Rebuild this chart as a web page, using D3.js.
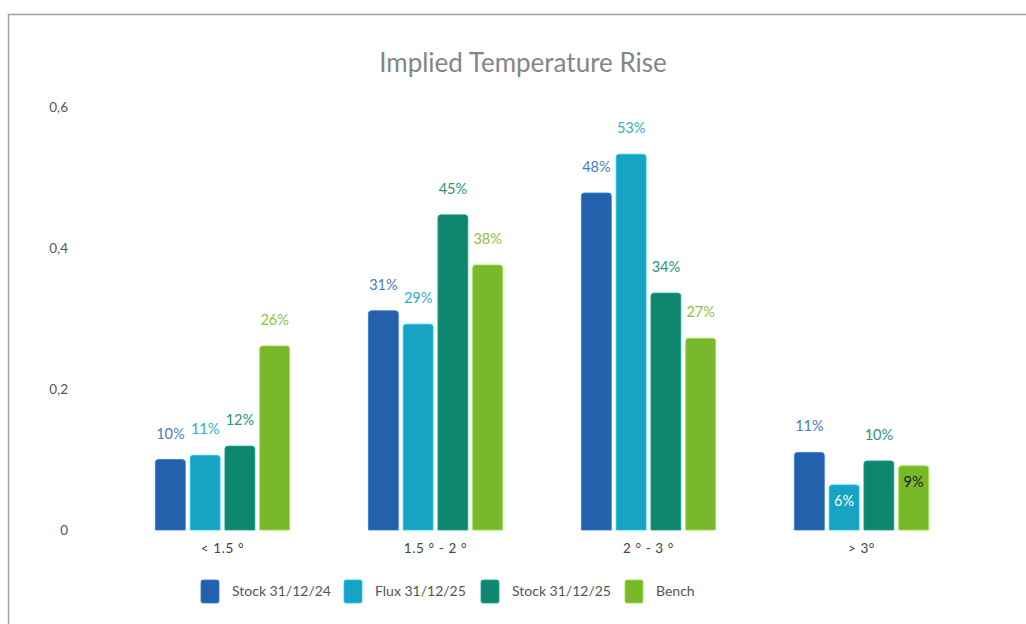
<!DOCTYPE html>
<html>
<head>
<meta charset="utf-8">
<script src="https://cdn.jsdelivr.net/npm/d3@7/dist/d3.min.js"></script>
<style>
  html, body { margin: 0; padding: 0; background: #fff; }
  svg { display: block; }
</style>
</head>
<body>
<svg id="chart" width="1026" height="624"></svg>
<script>
const categories = ["< 1.5 °", "1.5 ° - 2 °", "2 ° - 3 °", "> 3°"];
const seriesNames = ["Stock 31/12/24", "Flux 31/12/25", "Stock 31/12/25", "Bench"];
const stock24 = [0.100, 0.311, 0.478, 0.110];
const flux25  = [0.106, 0.292, 0.533, 0.064];
const stock25 = [0.119, 0.447, 0.336, 0.098];
const bench   = [0.261, 0.376, 0.272, 0.091];
const yTicks = [0, 0.2, 0.4, 0.6];
const yTickLabels = ["0", "0,2", "0,4", "0,6"];

const seriesValues = [stock24, flux25, stock25, bench];
const barColors = ["#2461ad", "#16a3c4", "#0f8670", "#78b82b"];
const labelColors = ["#4a7bc3", "#2eafca", "#2a9381", "#8bc23c"];
// labels drawn inside bars: [categoryIndex, seriesIndex, textColor]
const insideLabels = [[3, 1, "#ffffff"], [3, 3, "#1e1e1e"]];

const svg = d3.select("#chart");
const font = "Lato, 'Open Sans', sans-serif";

// frame
svg.append("line").attr("x1", 8).attr("x2", 1026).attr("y1", 14.5).attr("y2", 14.5)
  .attr("stroke", "#a0a0a0").attr("stroke-width", 1.5);
svg.append("line").attr("x1", 8.5).attr("x2", 8.5).attr("y1", 14).attr("y2", 624)
  .attr("stroke", "#a0a0a0").attr("stroke-width", 1.5);

// title
svg.append("text").attr("x", 523).attr("y", 72).attr("text-anchor", "middle")
  .attr("font-family", font).attr("font-size", 26).attr("fill", "#858585")
  .text("Implied Temperature Rise");

const x0 = d3.scaleBand().domain(categories).range([116, 968])
  .paddingInner(0.37).paddingOuter(0.185);
const x1 = d3.scaleBand().domain(d3.range(seriesNames.length))
  .range([0, x0.bandwidth()]).paddingInner(0.14);
const y = d3.scaleLinear().domain([0, 0.6]).range([530, 107]);

// y axis labels
const yAxis = d3.axisLeft(y).tickValues(yTicks)
  .tickFormat((d, i) => yTickLabels[i]).tickSize(0).tickPadding(0);
const yg = svg.append("g").attr("transform", "translate(68,0)").call(yAxis);
yg.select(".domain").remove();
yg.selectAll("text").attr("font-family", font).attr("font-size", 13.5)
  .attr("fill", "#555").attr("dy", "0.35em");

// x axis labels
const xAxis = d3.axisBottom(x0).tickSize(0).tickPadding(0);
const xg = svg.append("g").attr("transform", "translate(0,541)").call(xAxis);
xg.select(".domain").remove();
xg.selectAll("text").attr("font-family", font).attr("font-size", 13.5)
  .attr("fill", "#444").attr("dy", "0.9em").attr("letter-spacing", 0.6);

// bars
const data = [];
categories.forEach((c, ci) => {
  seriesValues.forEach((vals, si) => data.push({ ci, si, cat: c, v: vals[ci] }));
});

const groups = svg.append("g");
function roundTopRect(x, yTop, w, h, r) {
  return `M${x},${yTop + h}V${yTop + r}Q${x},${yTop} ${x + r},${yTop}H${x + w - r}Q${x + w},${yTop} ${x + w},${yTop + r}V${yTop + h}Z`;
}
groups.selectAll("path.bar").data(data).join("path").attr("class", "bar")
  .attr("d", d => {
    const bx = x0(d.cat) + x1(d.si);
    const top = y(d.v);
    return roundTopRect(bx, top, x1.bandwidth(), y(0) - top, 3);
  })
  .attr("fill", d => barColors[d.si])
  .attr("stroke", d => d3.color(barColors[d.si]).brighter(0.6))
  .attr("stroke-width", 0.8);

const fmt = d3.format(".0%");
groups.selectAll("text.lbl").data(data).join("text").attr("class", "lbl")
  .attr("x", d => x0(d.cat) + x1(d.si) + x1.bandwidth() / 2)
  .attr("y", d => {
    const inside = insideLabels.find(a => a[0] === d.ci && a[1] === d.si);
    return inside ? y(d.v) + 21 : y(d.v) - 21;
  })
  .attr("text-anchor", "middle")
  .attr("font-family", font).attr("font-size", 14.5)
  .attr("fill", d => {
    const inside = insideLabels.find(a => a[0] === d.ci && a[1] === d.si);
    return inside ? inside[2] : labelColors[d.si];
  })
  .text(d => fmt(d.v));

// legend
const legendX = [201, 344, 481, 625];
const lg = svg.append("g");
seriesNames.forEach((name, i) => {
  lg.append("rect").attr("x", legendX[i]).attr("y", 580).attr("width", 18).attr("height", 23)
    .attr("rx", 2).attr("fill", barColors[i])
    .attr("stroke", d3.color(barColors[i]).brighter(0.6)).attr("stroke-width", 0.8);
  lg.append("text").attr("x", legendX[i] + 31).attr("y", 596)
    .attr("font-family", font).attr("font-size", 14).attr("fill", "#555")
    .text(name);
});
</script>
</body>
</html>
